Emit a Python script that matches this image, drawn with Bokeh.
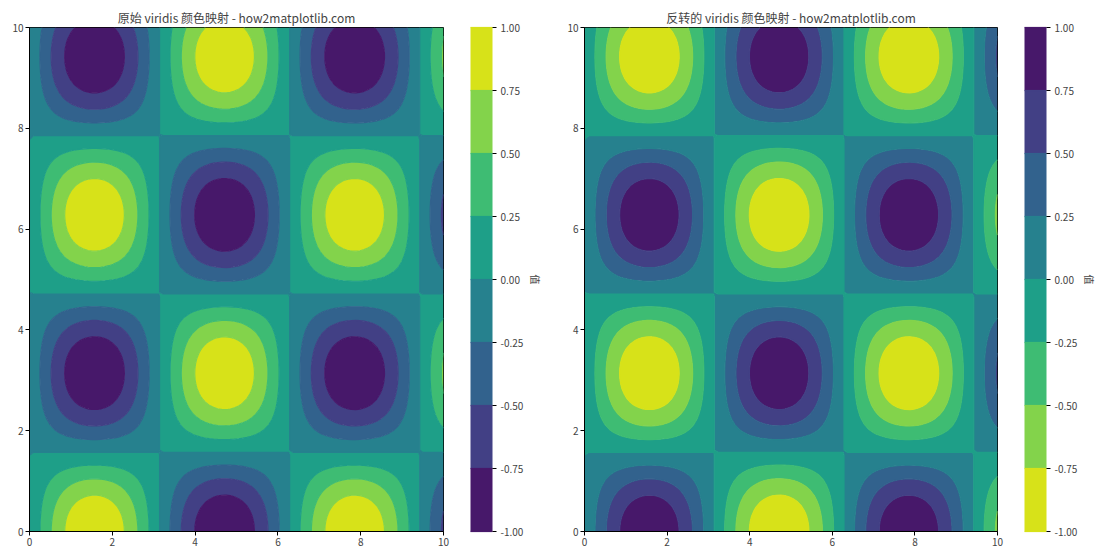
import numpy as np
from bokeh.plotting import figure
from bokeh.layouts import row
from bokeh.models import Title, PrintfTickFormatter, FixedTicker
from bokeh.palettes import Viridis256
from bokeh.embed import file_html
from bokeh.resources import INLINE

# data grid: z = sin(x) * cos(y)
x_vals = np.linspace(0, 10, 100)
y_vals = np.linspace(0, 10, 100)
X, Y = np.meshgrid(x_vals, y_vals)
z_vals = np.sin(X) * np.cos(Y)

levels = [-1.0, -0.75, -0.5, -0.25, 0.0, 0.25, 0.5, 0.75, 1.0]
axis_ticks = [0, 2, 4, 6, 8, 10]
titles = ["原始 viridis 颜色映射 - how2matplotlib.com",
          "反转的 viridis 颜色映射 - how2matplotlib.com"]
cbar_label = "值"

# matplotlib contourf colours: viridis at layer mid-points
mid_idx = [16, 48, 80, 112, 144, 176, 208, 240]
pal = [Viridis256[i] for i in mid_idx]
palettes = [pal, pal[::-1]]

FONT = "Noto Sans CJK SC"


def make_plot(title, palette, bl, br):
    p = figure(width=560, height=560, x_range=(0, 10), y_range=(0, 10),
               output_backend="svg", toolbar_location=None,
               min_border_left=bl, min_border_right=br,
               min_border_top=27, min_border_bottom=29)
    p.title.text = title
    p.title.align = "center"
    p.title.text_font = FONT
    p.title.text_font_size = "12px"
    p.title.text_font_style = "normal"
    p.title.standoff = 4
    p.grid.visible = False
    p.outline_line_color = "black"
    p.outline_line_width = 1
    for ax in (p.xaxis[0], p.yaxis[0]):
        ax.ticker = FixedTicker(ticks=axis_ticks)
        ax.major_label_text_font = FONT
        ax.major_label_text_font_size = "10px"
        ax.major_tick_in = 0
        ax.major_tick_out = 4
        ax.minor_tick_out = 0
        ax.minor_tick_in = 0
        ax.axis_line_color = "black"
        ax.major_label_standoff = 2
    line_cols = [palette[0]] + list(palette)
    cr = p.contour(x_vals, y_vals, z_vals, levels, fill_color=palette,
                   line_color=line_cols, line_width=1.2)
    cb = cr.construct_color_bar(width=22, padding=0,
                                bar_line_color="black",
                                major_tick_in=0, major_tick_out=4,
                                major_tick_line_color="black",
                                label_standoff=4,
                                major_label_text_font=FONT,
                                major_label_text_font_size="10px",
                                formatter=PrintfTickFormatter(format="%.2f"))
    # spacer between frame and colour bar
    p.add_layout(Title(text=" ", text_font_size="22.5px", standoff=0), "right")
    p.add_layout(cb, "right")
    p.add_layout(Title(text=cbar_label, align="center", text_font=FONT,
                       text_font_size="10px", text_font_style="normal",
                       standoff=3), "right")
    return p


plots = [make_plot(titles[0], palettes[0], 29, 117),
         make_plot(titles[1], palettes[1], 24, 123)]
layout = row(*plots)
open("out.html", "w").write(file_html(layout, INLINE))
